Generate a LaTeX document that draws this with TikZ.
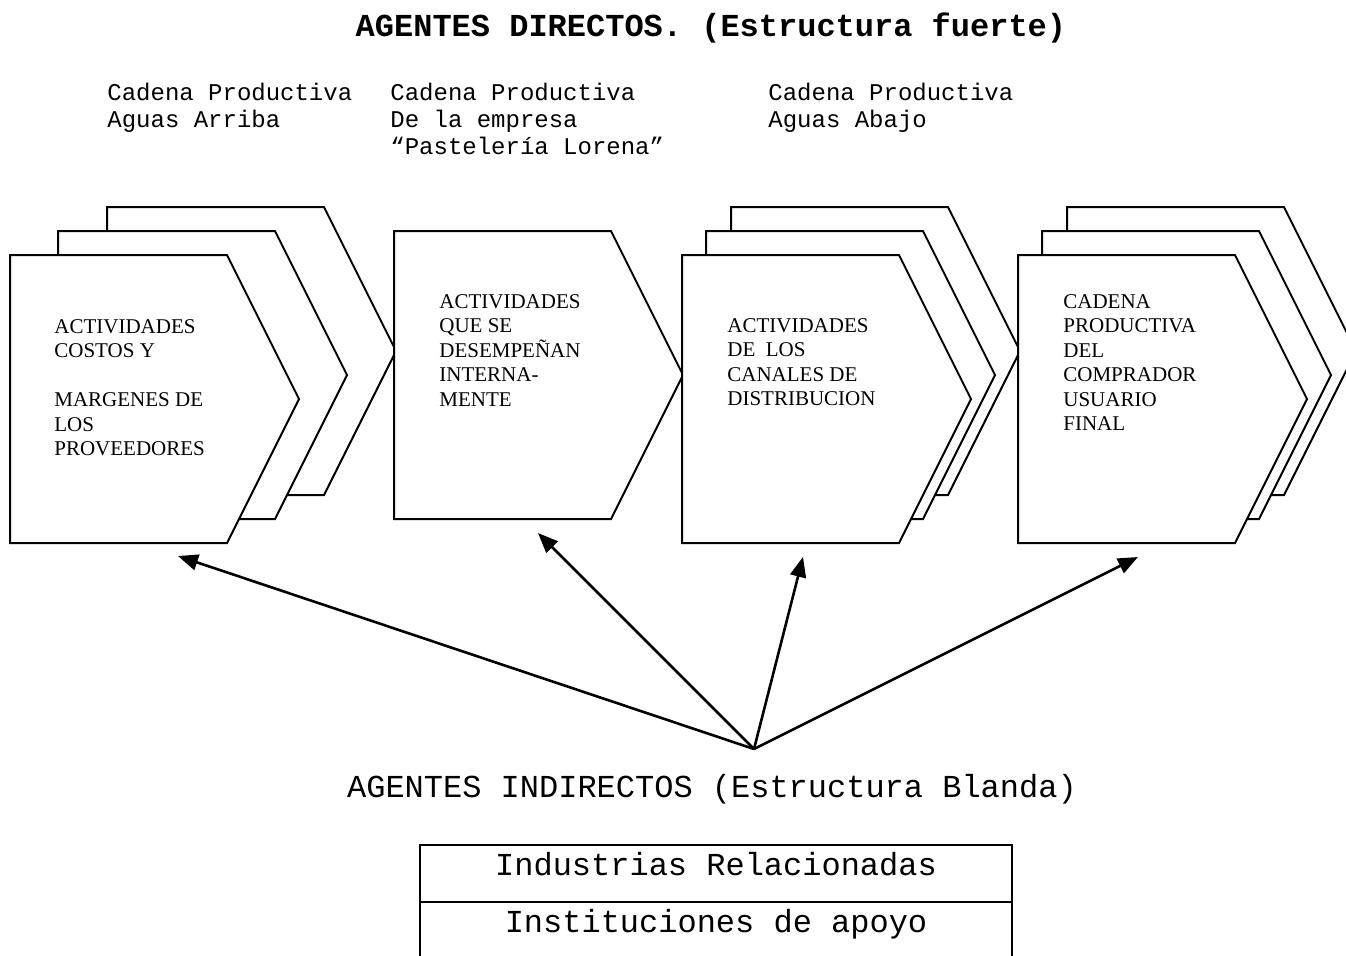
\documentclass[tikz,border=0pt]{standalone}
\usepackage{fontspec}
\setmainfont{Liberation Serif}
\newfontfamily\monofont{Liberation Mono}
\usetikzlibrary{arrows.meta}
\tikzset{
  chevshape/.style={draw=black,line width=1pt,fill=white,line join=miter},
  boxtext/.style={anchor=north west,inner sep=0pt,align=left,font=\fontsize{10.5}{12.25}\selectfont},
  toplabel/.style={anchor=base west,inner sep=0pt,font=\monofont\fontsize{12}{13.5}\selectfont},
  bigmono/.style={anchor=base,inner sep=0pt,font=\monofont\fontsize{16}{18}\selectfont},
  arr/.style={line width=1.3pt,-{Triangle[length=10pt,width=8pt]}},
  tbl/.style={line width=1pt}
}
\newcommand\mychev[2]{\draw[chevshape] (#1,#2) -- ++(217,0) -- ++(72,144) -- ++(-72,144) -- ++(-217,0) -- cycle;}
\begin{document}
\begin{tikzpicture}[x=0.5pt,y=-0.5pt]
\useasboundingbox (0,0) rectangle (1346,955);
\clip (0,0) rectangle (1346,955);
\fill[white] (0,0) rectangle (1346,955);

% title
\node[bigmono,font=\monofont\bfseries\fontsize{16}{18}\selectfont] (title) at (711,36) {AGENTES DIRECTOS. (Estructura fuerte)};

% top labels
\node[toplabel] (l1a) at (107,100) {Cadena Productiva};
\node[toplabel] (l1b) at (107,127) {Aguas Arriba};
\node[toplabel] (l2a) at (390,100) {Cadena Productiva};
\node[toplabel] (l2b) at (390,127) {De la empresa};
\node[toplabel] (l2c) at (390,154) {“Pastelería Lorena”};
\node[toplabel] (l3a) at (768,100) {Cadena Productiva};
\node[toplabel] (l3b) at (768,127) {Aguas Abajo};

% group 1
\mychev{107}{207}
\mychev{58}{231}
\mychev{10}{255}
% group 2
\mychev{394}{231}
% group 3
\mychev{731}{207}
\mychev{706}{231}
\mychev{682}{255}
% group 4
\mychev{1067}{207}
\mychev{1042}{231}
\mychev{1018}{255}

% box texts
\node[boxtext] (t1) at (54,319) {ACTIVIDADES\\COSTOS Y\\[12.25pt]MARGENES DE\\LOS\\PROVEEDORES};
\node[boxtext] (t2) at (439,294) {ACTIVIDADES\\QUE SE\\DESEMPEÑAN\\INTERNA-\\MENTE};
\node[boxtext] (t3) at (727,318) {ACTIVIDADES\\DE\ \ LOS\\CANALES DE\\DISTRIBUCION};
\node[boxtext] (t4) at (1063,294) {CADENA\\PRODUCTIVA\\DEL\\COMPRADOR\\USUARIO\\FINAL};

% arrows
\coordinate (hub) at (754,749);
\coordinate (a1) at (178,556);
\coordinate (a2) at (538,533);
\coordinate (a3) at (803,557);
\coordinate (a4) at (1138,557);
\draw[arr] (hub) -- (a1);
\draw[arr] (hub) -- (a2);
\draw[arr] (hub) -- (a3);
\draw[arr] (hub) -- (a4);

% indirect agents
\node[bigmono] (ind) at (712,797) {AGENTES INDIRECTOS (Estructura Blanda)};
\coordinate (tl) at (420,845);
\coordinate (tr) at (1012,845);
\coordinate (ml) at (420,902);
\coordinate (mr) at (1012,902);
\coordinate (bl) at (420,960);
\coordinate (br) at (1012,960);
\draw[tbl] (bl) -- (tl) -- (tr) -- (br);
\draw[tbl] (ml) -- (mr);
\node[bigmono] (r1) at (716,875) {Industrias Relacionadas};
\node[bigmono] (r2) at (716,932) {Instituciones de apoyo};
\end{tikzpicture}
\end{document}
